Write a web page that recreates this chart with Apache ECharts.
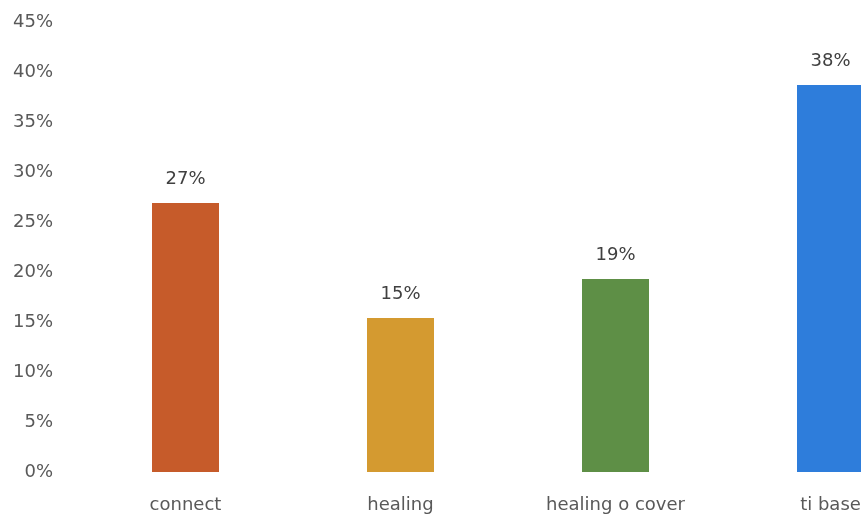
<!DOCTYPE html>
<html>
<head>
<meta charset="utf-8">
<script src="https://cdn.jsdelivr.net/npm/echarts@6/dist/echarts.min.js"></script>
<style>
html,body{margin:0;padding:0;background:#ffffff;}
#c{width:861px;height:518px;}
</style>
</head>
<body>
<div id="c"></div>
<script>
var categories = ["connect", "healing", "healing o cover", "ti base"];
var values = [26.9, 15.4, 19.3, 38.7];
var valueLabels = ["27%", "15%", "19%", "38%"];
var barColors = ["#C65B2A", "#D49A30", "#5E8F46", "#2E7DDB"];
var yTicks = [0, 5, 10, 15, 20, 25, 30, 35, 40, 45];

var chart = echarts.init(document.getElementById('c'), null, {renderer: 'canvas'});
var font = '"DejaVu Sans", sans-serif';
chart.setOption({
  backgroundColor: '#ffffff',
  animation: false,
  grid: {left: 78, top: 22, bottom: 46, width: 860, containLabel: false, outerBoundsMode: 'none'},
  xAxis: {
    type: 'category',
    data: categories,
    axisLine: {show: false},
    axisTick: {show: false},
    axisLabel: {color: '#595959', fontFamily: font, fontSize: 18, margin: 24, interval: 0}
  },
  yAxis: {
    type: 'value',
    min: yTicks[0],
    max: yTicks[yTicks.length - 1],
    interval: 5,
    splitLine: {show: false},
    axisLine: {show: false},
    axisTick: {show: false},
    axisLabel: {color: '#595959', fontFamily: font, fontSize: 18, margin: 25, padding: [3, 0, 0, 0],
      formatter: function (v) { return v + '%'; }}
  },
  series: [{
    type: 'bar',
    barWidth: 67,
    data: values.map(function (v, i) {
      return {value: v, itemStyle: {color: barColors[i]}};
    }),
    label: {
      show: true,
      position: 'top',
      distance: 15,
      color: '#404040',
      fontFamily: font,
      fontSize: 18,
      formatter: function (p) { return valueLabels[p.dataIndex]; }
    }
  }]
});
</script>
</body>
</html>
